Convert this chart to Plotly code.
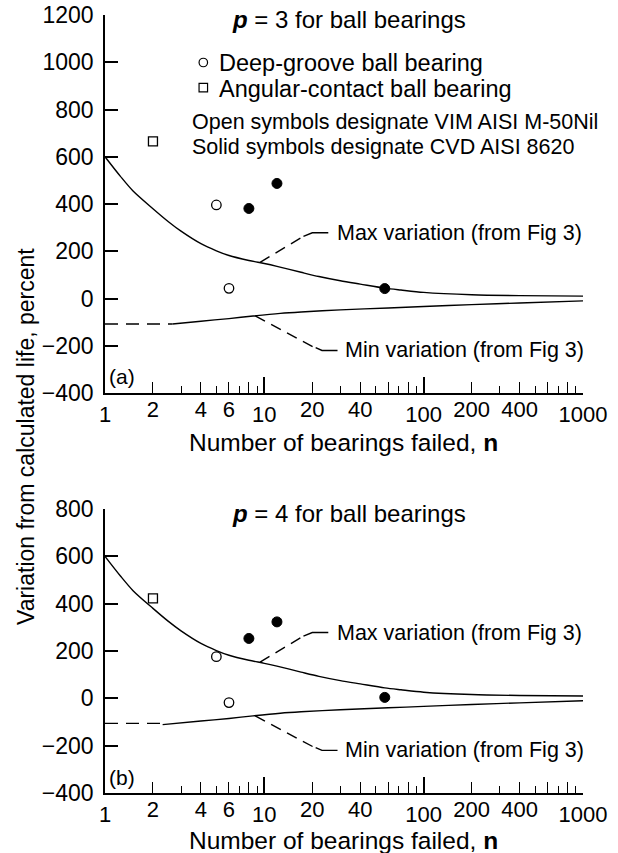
import math
import plotly.graph_objects as go

# ---------------- data ----------------
# Max variation curve (from Fig 3)
max_n = [1, 1.25, 1.5, 2, 2.5, 3, 4, 5, 6, 8, 10, 12, 17, 22, 30, 40, 57, 72, 100, 200, 400, 1000]
max_v = [600, 517, 455, 380, 325, 285, 232, 202, 182, 161, 148, 136, 111, 93, 75, 61, 44, 36, 26, 16, 12, 10]

# Min variation curve (from Fig 3), solid part
min_n = [4, 6, 8.5, 12.6, 17, 30, 60, 100, 200, 400, 1000]
min_v = [-96, -85, -74, -63, -57, -48, -40, -34, -26, -19, -10]
# per-panel start of the solid min curve and dashed extension level
min_start_a = (2.65, -108)
min_start_b = (2.3, -111)
min_dash_a = -108
min_dash_b = -106

# Panel (a): p = 3
a_ang_n, a_ang_v = [2], [665]
a_open_n, a_open_v = [5, 6], [396, 43]
a_solid_n, a_solid_v = [8, 12, 57], [381, 487, 42]

# Panel (b): p = 4
b_ang_n, b_ang_v = [2], [422]
b_open_n, b_open_v = [5, 6], [176, -18]
b_solid_n, b_solid_v = [8, 12, 57], [253, 323, 4]

# leader lines (data coords)
max_lead_dash_n, max_lead_dash_v = [9.4, 17.6], [153, 263]
max_lead_solid_n, max_lead_solid_v = [17.6, 20, 25.2], [263, 278, 278]
max_label_n, max_label_v = 27.9, 278
min_lead_dash_n, min_lead_dash_v = [8.77, 20.4], [-74, -206]
min_lead_solid_n, min_lead_solid_v = [21.0, 23.0, 28.8], [-208, -220, -220]
min_label_n, min_label_v = 31.3, -220

# legend symbols position (panel a, data coords)
leg_n = [4.14, 4.14]
leg_v = [999, 893]

# tick labels
major_x = [1, 10, 100, 1000]
mid_x = [2, 4, 6, 8, 20, 40, 60, 80, 200, 400, 600, 800]
mid_x_text = ["2", "4", "6", "", "20", "40", "", "", "200", "400", "", ""]
minor_x = [3, 5, 7, 9, 30, 50, 70, 90, 300, 500, 700, 900]
ya_ticks = list(range(-400, 1201, 200))
yb_ticks = list(range(-400, 801, 200))

# ---------------- figure ----------------
W, H = 618, 853
FONT = "Liberation Sans, Arial, Helvetica, sans-serif"
LW = 1.4


def px(x):
    return x / W


def py(y):
    return 1 - y / H


def ytext(vals):
    return [("\u2212" + str(-v)) if v < 0 else str(v) for v in vals]


fig = go.Figure()


def add_panel(xa, ya, ms, mv, dash_v, ang, opn, sol, show_leg):
    line = dict(color="black", width=LW, shape="spline", smoothing=0.8)
    fig.add_trace(go.Scatter(x=max_n, y=max_v, mode="lines", line=line, xaxis=xa, yaxis=ya,
                             showlegend=False, hoverinfo="skip"))
    fig.add_trace(go.Scatter(x=[ms] + min_n, y=[mv] + min_v, mode="lines", line=line,
                             xaxis=xa, yaxis=ya, showlegend=False, hoverinfo="skip"))
    fig.add_trace(go.Scatter(x=[1, ms], y=[dash_v, dash_v], mode="lines",
                             line=dict(color="black", width=LW, dash="13px,8px"),
                             xaxis=xa, yaxis=ya, showlegend=False, hoverinfo="skip"))
    dl = dict(color="black", width=LW, dash="11px,7px")
    sl = dict(color="black", width=LW)
    fig.add_trace(go.Scatter(x=max_lead_dash_n, y=max_lead_dash_v, mode="lines", line=dl,
                             xaxis=xa, yaxis=ya, showlegend=False, hoverinfo="skip"))
    fig.add_trace(go.Scatter(x=max_lead_solid_n, y=max_lead_solid_v, mode="lines", line=sl,
                             xaxis=xa, yaxis=ya, showlegend=False, hoverinfo="skip"))
    fig.add_trace(go.Scatter(x=min_lead_dash_n, y=min_lead_dash_v, mode="lines", line=dl,
                             xaxis=xa, yaxis=ya, showlegend=False, hoverinfo="skip"))
    fig.add_trace(go.Scatter(x=min_lead_solid_n, y=min_lead_solid_v, mode="lines", line=sl,
                             xaxis=xa, yaxis=ya, showlegend=False, hoverinfo="skip"))
    fig.add_trace(go.Scatter(x=ang[0], y=ang[1], mode="markers",
                             marker=dict(symbol="square", size=9, color="white",
                                         line=dict(color="black", width=1.3)),
                             xaxis=xa, yaxis=ya, showlegend=False))
    fig.add_trace(go.Scatter(x=opn[0], y=opn[1], mode="markers",
                             marker=dict(symbol="circle", size=9.5, color="white",
                                         line=dict(color="black", width=1.3)),
                             xaxis=xa, yaxis=ya, showlegend=False))
    fig.add_trace(go.Scatter(x=sol[0], y=sol[1], mode="markers",
                             marker=dict(symbol="circle", size=10, color="black",
                                         line=dict(color="black", width=1)),
                             xaxis=xa, yaxis=ya, showlegend=False))
    if show_leg:
        fig.add_trace(go.Scatter(x=leg_n, y=leg_v, mode="markers",
                                 marker=dict(symbol=["circle", "square"], size=8.5, color="white",
                                             line=dict(color="black", width=1.2)),
                                 xaxis=xa, yaxis=ya, showlegend=False))
    for (tx, tv, t) in [(max_label_n, max_label_v, "Max variation (from Fig 3)"),
                        (min_label_n, min_label_v, "Min variation (from Fig 3)")]:
        fig.add_annotation(x=math.log10(tx), y=tv, xref=xa, yref=ya, text=t,
                           showarrow=False, xanchor="left", yanchor="middle",
                           font=dict(size=21.5, family=FONT, color="black"))


add_panel("x", "y", min_start_a[0], min_start_a[1], min_dash_a,
          (a_ang_n, a_ang_v), (a_open_n, a_open_v), (a_solid_n, a_solid_v), True)
add_panel("x2", "y2", min_start_b[0], min_start_b[1], min_dash_b,
          (b_ang_n, b_ang_v), (b_open_n, b_open_v), (b_solid_n, b_solid_v), False)

# invisible traces to anchor overlay axes
fig.add_trace(go.Scatter(x=[1], y=[0], mode="markers", marker=dict(opacity=0), xaxis="x3", yaxis="y",
                         showlegend=False, hoverinfo="skip"))
fig.add_trace(go.Scatter(x=[1], y=[0], mode="markers", marker=dict(opacity=0), xaxis="x4", yaxis="y2",
                         showlegend=False, hoverinfo="skip"))

xdom = [px(105), px(583)]
tickfont = dict(size=22, family=FONT, color="black")


def xmain(anchor):
    return dict(domain=xdom, anchor=anchor, type="log", range=[0, 3], showgrid=False, zeroline=False,
                automargin=False,
                showline=True, linecolor="black", linewidth=1.5,
                ticks="inside", ticklen=16, tickwidth=1.5, tickcolor="black",
                tickvals=major_x, ticktext=[str(v) for v in major_x], tickfont=tickfont,
                ticklabelstandoff=1,
                minor=dict(tickvals=minor_x, ticks="inside", ticklen=7, tickwidth=1.3, tickcolor="black",
                           showgrid=False))


def xmid(overlay, anchor):
    return dict(overlaying=overlay, anchor=anchor, type="log", range=[0, 3], showgrid=False,
                zeroline=False, showline=False, automargin=False,
                ticks="inside", ticklen=11, tickwidth=1.4, tickcolor="black",
                tickvals=mid_x, ticktext=mid_x_text, tickfont=tickfont, ticklabelstandoff=1)


def yax(dom, rng, tv, anchor):
    return dict(domain=dom, anchor=anchor, range=rng, showgrid=False, zeroline=False,
                automargin=False,
                showline=True, linecolor="black", linewidth=1.5,
                ticks="inside", ticklen=13, tickwidth=1.5, tickcolor="black",
                tickvals=tv, ticktext=ytext(tv), tickfont=dict(size=23, family=FONT, color="black"),
                ticklabelstandoff=5)


fig.update_layout(
    width=W, height=H, margin=dict(l=0, r=0, t=0, b=0, autoexpand=False),
    paper_bgcolor="white", plot_bgcolor="white", showlegend=False,
    xaxis=xmain("y"), xaxis3=xmid("x", "y"),
    xaxis2=xmain("y2"), xaxis4=xmid("x2", "y2"),
    yaxis=yax([py(393), py(15)], [-400, 1200], ya_ticks, "x"),
    yaxis2=yax([py(793), py(509)], [-400, 800], yb_ticks, "x2"),
)


def ann(x, y, text, size, xanchor="left", angle=0):
    fig.add_annotation(x=px(x), y=py(y), xref="paper", yref="paper", text=text, showarrow=False,
                       xanchor=xanchor, yanchor="middle", textangle=angle, borderpad=0,
                       font=dict(size=size, family=FONT, color="black"))


ann(231, 19, "<b><i>p</i></b> = 3 for ball bearings", 24)
ann(218, 63, "Deep-groove ball bearing", 23.5)
ann(218, 89, "Angular-contact ball bearing", 23.5)
ann(191, 122, "Open symbols designate VIM AISI M-50Nil", 21.5)
ann(191, 147, "Solid symbols designate CVD AISI 8620", 21.5)
ann(231, 513, "<b><i>p</i></b> = 4 for ball bearings", 24)
ann(108, 376, "(a)", 21)
ann(108, 777, "(b)", 21)
ann(343, 442, "Number of bearings failed, <b>n</b>", 24.5, xanchor="center")
ann(343, 840, "Number of bearings failed, <b>n</b>", 24.5, xanchor="center")
ann(26, 437, "Variation from calculated life, percent", 23, xanchor="center", angle=-90)

fig.write_html("out.html", config={"displayModeBar": False},
               post_script="document.body.style.margin='0px';document.body.style.overflow='hidden';")
